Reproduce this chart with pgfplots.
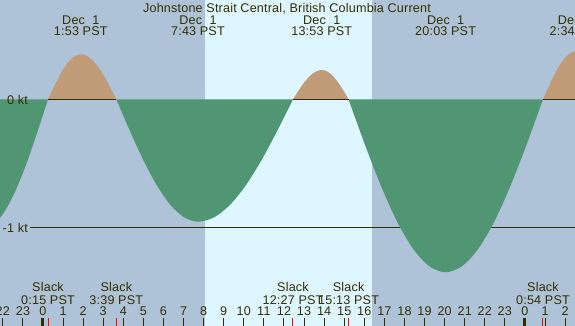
\documentclass[border=0pt]{standalone}
\usepackage{pgfplots}
\pgfplotsset{compat=1.18}
\usepackage{fontspec}
\setmainfont{Liberation Sans}[LetterSpace=1.5]
\definecolor{night}{RGB}{175,195,216}
\definecolor{day}{RGB}{222,246,255}
\definecolor{ebb}{RGB}{80,150,115}
\definecolor{flood}{RGB}{192,155,120}
\definecolor{fg}{RGB}{51,46,0}
\newcommand{\tf}{\fontsize{12.6pt}{15pt}\selectfont}
\begin{document}
\begin{tikzpicture}[font=\tf]
\begin{axis}[
 width=575pt, height=326pt, scale only axis,
 xmin=-2.141, xmax=26.494, ymin=-1.7656, ymax=0.7734,
 axis background/.style={fill=night},
 axis line style={draw=none},
 axis on top,
 clip mode=individual,
 ytick=\empty,
 xtick={-2,-1,0,1,2,3,4,5,6,7,8,9,10,11,12,13,14,15,16,17,18,19,20,21,22,23,24,25,26},
 xticklabels={22,23,0,1,2,3,4,5,6,7,8,9,10,11,12,13,14,15,16,17,18,19,20,21,22,23,0,1,2},
 xtick pos=left,
 xticklabel pos=left,
 tick align=inside,
 major tick length=8pt,
 tick style={draw=fg, line width=1pt},
 xticklabel style={anchor=base, yshift=10.7pt, inner sep=0pt, font=\tf, text=fg},
 /pgf/number format/assume math mode=true,
 extra x ticks={0.25,3.65,12.45,15.217,24.9},
 extra x tick labels={},
 extra x tick style={major tick style={draw=red, line width=1pt}},
]
% daylight band
\addplot[draw=none, fill=day] coordinates {(8.068,-2) (8.068,1) (16.37,1) (16.37,-2)};
% -1 kt line
\addplot[fg, line width=1pt] coordinates {(-0.647,-1) (27,-1)};
% ebb lobes
\addplot[draw=none, fill=ebb, smooth] coordinates {
(-6.25,0) (-5.708,-0.2614) (-5.167,-0.505) (-4.625,-0.7142) (-4.083,-0.8747) (-3.542,-0.9756) (-3.0,-1.01)
(-2.458,-0.976) (-1.917,-0.875) (-1.375,-0.714) (-0.833,-0.505) (-0.292,-0.261) (0.25,0)};
\addplot[draw=none, fill=ebb, smooth] coordinates {
(3.650,0) (4.328,-0.2466) (5.006,-0.4765) (5.683,-0.6739) (6.361,-0.8253) (7.039,-0.9205) (7.717,-0.953)
(8.506,-0.9205) (9.294,-0.8253) (10.083,-0.6739) (10.872,-0.4765) (11.661,-0.2466) (12.450,0)};
\addplot[draw=none, fill=ebb, smooth] coordinates {
(15.217,0) (16.022,-0.3486) (16.828,-0.6735) (17.633,-0.9525) (18.439,-1.1665) (19.244,-1.3011) (20.050,-1.347)
(20.858,-1.3011) (21.667,-1.1665) (22.475,-0.9525) (23.283,-0.6735) (24.092,-0.3486) (24.900,0)};
% flood lobes
\addplot[draw=none, fill=flood, smooth] coordinates {
(0.250,0) (0.522,0.0906) (0.794,0.175) (1.067,0.2475) (1.339,0.3031) (1.611,0.3381) (1.883,0.35)
(2.178,0.3381) (2.472,0.3031) (2.767,0.2475) (3.061,0.175) (3.356,0.0906) (3.650,0)};
\addplot[draw=none, fill=flood, smooth] coordinates {
(12.450,0) (12.689,0.0590) (12.928,0.114) (13.167,0.1612) (13.406,0.1975) (13.644,0.2202) (13.883,0.228)
(14.105,0.2202) (14.328,0.1975) (14.550,0.1612) (14.772,0.114) (14.995,0.0590) (15.217,0)};
\addplot[draw=none, fill=flood, smooth] coordinates {
(24.900,0) (25.178,0.0971) (25.456,0.1875) (25.733,0.2652) (26.011,0.3248) (26.289,0.3622) (26.567,0.375)
(26.845,0.3622) (27.122,0.3248) (27.400,0.2652) (27.678,0.1875) (27.956,0.0971) (28.233,0)};
% zero line under flood
\addplot[fg, line width=1pt] coordinates {(0.25,0) (3.65,0)};
\addplot[fg, line width=1pt] coordinates {(12.45,0) (15.217,0)};
\addplot[fg, line width=1pt] coordinates {(24.9,0) (27,0)};
% midnight markers
\addplot[fg, line width=3pt] coordinates {(0,-1.7656) (0,-1.7033)};
\addplot[fg, line width=3pt] coordinates {(24,-1.7656) (24,-1.7033)};
% texts
\begin{scope}[every node/.style={text=fg, font=\tf, inner sep=0pt}]
\node[anchor=base] at (axis cs:12.15,0.6745) {Johnstone Strait Central, British Columbia Current};
\node[anchor=base] at (axis cs:1.883,0.5864) {Dec~~1};
\node[anchor=base] at (axis cs:1.883,0.493) {1:53 PST};
\node[anchor=base] at (axis cs:7.717,0.5864) {Dec~~1};
\node[anchor=base] at (axis cs:7.717,0.493) {7:43 PST};
\node[anchor=base] at (axis cs:13.883,0.5864) {Dec~~1};
\node[anchor=base] at (axis cs:13.883,0.493) {13:53 PST};
\node[anchor=base] at (axis cs:20.05,0.5864) {Dec~~1};
\node[anchor=base] at (axis cs:20.05,0.493) {20:03 PST};
\node[anchor=base] at (axis cs:26.567,0.5864) {Dec~~2};
\node[anchor=base] at (axis cs:26.567,0.493) {2:34 PST};
\node[anchor=base] at (axis cs:0.25,-1.5008) {Slack};
\node[anchor=base] at (axis cs:0.25,-1.5966) {0:15 PST};
\node[anchor=base] at (axis cs:3.65,-1.5008) {Slack};
\node[anchor=base] at (axis cs:3.65,-1.5966) {3:39 PST};
\node[anchor=base] at (axis cs:12.45,-1.5008) {Slack};
\node[anchor=base] at (axis cs:12.45,-1.5966) {12:27 PST};
\node[anchor=base] at (axis cs:15.217,-1.5008) {Slack};
\node[anchor=base] at (axis cs:15.217,-1.5966) {15:13 PST};
\node[anchor=base] at (axis cs:24.9,-1.5008) {Slack};
\node[anchor=base] at (axis cs:24.9,-1.5966) {0:54 PST};
\node[anchor=base east] at (axis cs:-0.747,-0.037) {0 kt};
\node[anchor=base east] at (axis cs:-0.747,-1.038) {-1 kt};
\end{scope}
\coordinate (sw) at (rel axis cs:0,0);
\coordinate (ne) at (rel axis cs:1,1);
\end{axis}
\pgfresetboundingbox
\useasboundingbox (sw) rectangle (ne);
\end{tikzpicture}
\end{document}
